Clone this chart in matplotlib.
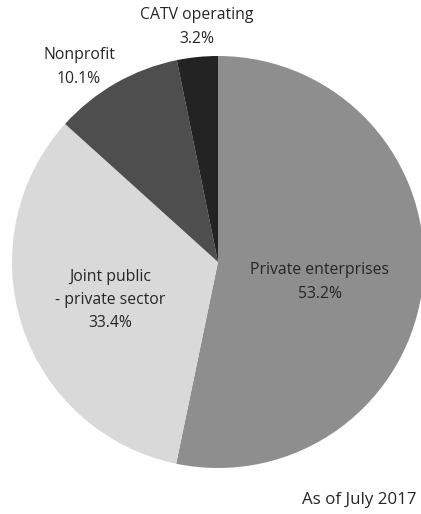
import matplotlib
matplotlib.use("Agg")
import matplotlib.pyplot as plt

# Share of operators by type, as of July 2017
categories = ["Private enterprises", "Joint public\n- private sector", "Nonprofit", "CATV operating"]
shares = [53.2, 33.4, 10.1, 3.2]
note = "As of July 2017"

colors = ["#8e8e8e", "#d9d9d9", "#4e4e4e", "#232323"]
text_color = "#262626"

plt.rcParams["font.family"] = ["Open Sans", "DejaVu Sans"]

W, H = 421, 514
fig = plt.figure(figsize=(W / 100, H / 100), dpi=100)
ax = fig.add_axes([0, 0, 1, 1])

ax.pie(shares, colors=colors, startangle=90, counterclock=False,
       center=(218, H - 262), radius=206, frame=True,
       wedgeprops=dict(linewidth=0))
ax.set_xlim(0, W)
ax.set_ylim(0, H)
ax.set_aspect("equal")
ax.axis("off")

# label anchor points (pixel coords from top-left)
label_pos = [(320, 282), (110, 300), (79, 67), (197, 27)]
for name, val, (x, y) in zip(categories, shares, label_pos):
    ax.text(x, H - y, f"{name}\n{val}%", ha="center", va="center",
            fontsize=11.3, color=text_color, linespacing=1.6)

ax.text(417, H - 500, note, ha="right", va="center", fontsize=12.2, color=text_color)

fig.savefig("out.png", dpi=100)
